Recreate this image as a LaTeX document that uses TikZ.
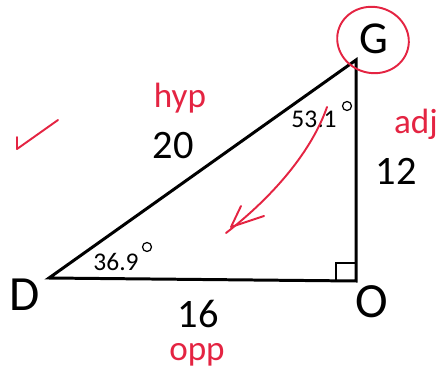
\documentclass[tikz,border=0pt]{standalone}
\usepackage{fontspec}
\setmainfont{Carlito}
\begin{document}
\begin{tikzpicture}[x=0.02cm,y=-0.02cm,
  tri/.style={line width=1.7pt,line join=miter},
  ink/.style={draw=penred,line width=1.1pt,line cap=round,line join=round},
  big/.style={font=\fontsize{28}{30}\selectfont,inner sep=0pt},
  num/.style={font=\fontsize{23}{25}\selectfont,inner sep=0pt},
  ang/.style={font=\fontsize{14.5}{16}\selectfont,inner sep=0pt},
  hand/.style={text=penred,font=\fontsize{20}{22}\selectfont,inner sep=0pt},
  deg/.style={draw,line width=0.7pt}]
\definecolor{penred}{RGB}{228,36,66}
\useasboundingbox (0,0) rectangle (438,371);
\coordinate (D) at (49,278);
\coordinate (O) at (356,281);
\coordinate (G) at (356,60);
\draw[tri] (D) -- (O) -- (G) -- cycle;
\draw[line width=1.2pt] (336,281) -- (336,263) -- (356,263);
\node[big] (lD) at (25,295) {D};
\node[big] (lO) at (372,302) {O};
\node[big,font=\fontsize{26}{28}\selectfont] (lG) at (374,39) {G};
\node[num] (s20) at (173,146) {20};
\node[num] (s12) at (396,171) {12};
\node[num] (s16) at (198,314) {16};
\node[ang] (a53) at (314,119) {53.1};
\draw[deg] (347,106) circle (4.5);
\node[ang] (a36) at (116,262) {36.9};
\draw[deg] (147,247) circle (4.5);
% red annotations
\draw[ink,rotate around={-15:(373,40)}] (373,40) ellipse (36 and 33);
\draw[ink] (17,137) -- (17,149) -- (58,120);
\node[hand] (hyp) at (180,98) {hyp};
\node[hand] (adj) at (416,124) {adj};
\node[hand] (opp) at (197,355) {opp};
\coordinate (A1) at (327,107);
\coordinate (A2) at (226,233);
\draw[ink] (A1) .. controls (312,150) and (275,195) .. (A2);
\draw[ink] (241,206) -- (231,227) -- (264,216);
\end{tikzpicture}
\end{document}
